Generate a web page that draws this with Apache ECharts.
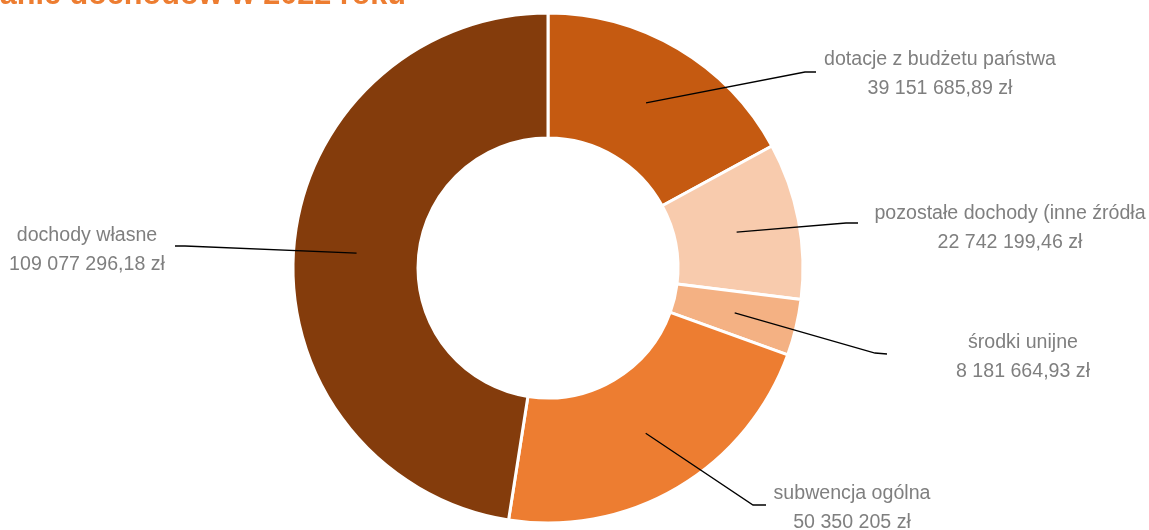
<!DOCTYPE html>
<html>
<head>
<meta charset="utf-8">
<script src="https://cdn.jsdelivr.net/npm/echarts@6/dist/echarts.min.js"></script>
<style>
html,body{margin:0;padding:0;background:#fff;}
#c{width:1149px;height:530px;}
</style>
</head>
<body>
<div id="c"></div>
<script>
// Data
var titleText = 'Wykonanie dochodów w 2022 roku';
var categories = ['dotacje z budżetu państwa', 'pozostałe dochody (inne źródła', 'środki unijne', 'subwencja ogólna', 'dochody własne'];
var values = [39151685.89, 22742199.46, 8181664.93, 50350205, 109077296.18];
var valueLabels = ['39 151 685,89 zł', '22 742 199,46 zł', '8 181 664,93 zł', '50 350 205 zł', '109 077 296,18 zł'];
var colors = ['#C55A11', '#F8CBAD', '#F4B183', '#ED7D31', '#843C0C'];

// Label layout (positions of label blocks and guide-line ends)
var labelCenter = [[940, 74], [1010, 228], [1023, 357], [852, 508], [87, 250]];
var lineEnd = [[816, 72], [858, 223], [887, 354], [766, 505], [175, 246]];
var elbow = [[805, 72], [846, 223], [875, 353], [753, 505], [185, 246]];

var chart = echarts.init(document.getElementById('c'), null, {renderer: 'canvas'});

var seriesData = categories.map(function (c, i) {
  return {name: c, value: values[i], itemStyle: {color: colors[i]}};
});
var lineData = categories.map(function (c, i) {
  return {name: c, value: values[i]};
});

var labelFont = '"Liberation Sans", Arial, sans-serif';

chart.setOption({
  animation: false,
  backgroundColor: '#ffffff',
  graphic: [{
    type: 'text',
    x: -100,
    y: -20,
    z: 10,
    style: {
      text: titleText,
      fill: '#ED7D31',
      font: 'bold 30.6px "Liberation Sans", Arial, sans-serif',
      verticalAlign: 'top'
    }
  }],
  series: [{
    type: 'pie',
    z: 2,
    center: [548, 268],
    radius: [130, 255],
    startAngle: 90,
    clockwise: true,
    avoidLabelOverlap: false,
    silent: true,
    label: {show: false},
    labelLine: {show: false},
    itemStyle: {borderColor: '#ffffff', borderWidth: 3},
    data: seriesData
  }, {
    type: 'pie',
    z: 5,
    center: [548, 268],
    radius: [0, 192],
    startAngle: 90,
    clockwise: true,
    avoidLabelOverlap: false,
    silent: true,
    itemStyle: {color: 'rgba(0,0,0,0)', borderWidth: 0},
    label: {
      show: true,
      position: 'outside',
      formatter: function (p) { return categories[p.dataIndex] + '\n' + valueLabels[p.dataIndex]; },
      color: '#7F7F7F',
      fontFamily: labelFont,
      fontSize: 19.6,
      lineHeight: 28.5,
      align: 'center'
    },
    labelLine: {
      show: true,
      length: 20,
      length2: 10,
      lineStyle: {color: '#000000', width: 1.3}
    },
    labelLayout: function (params) {
      var i = params.dataIndex;
      var pts = params.labelLinePoints;
      var start = pts ? pts[0] : elbow[i];
      return {
        x: labelCenter[i][0],
        y: labelCenter[i][1],
        align: 'center',
        verticalAlign: 'middle',
        labelLinePoints: [start, elbow[i], lineEnd[i]]
      };
    },
    data: lineData
  }]
});
</script>
</body>
</html>
